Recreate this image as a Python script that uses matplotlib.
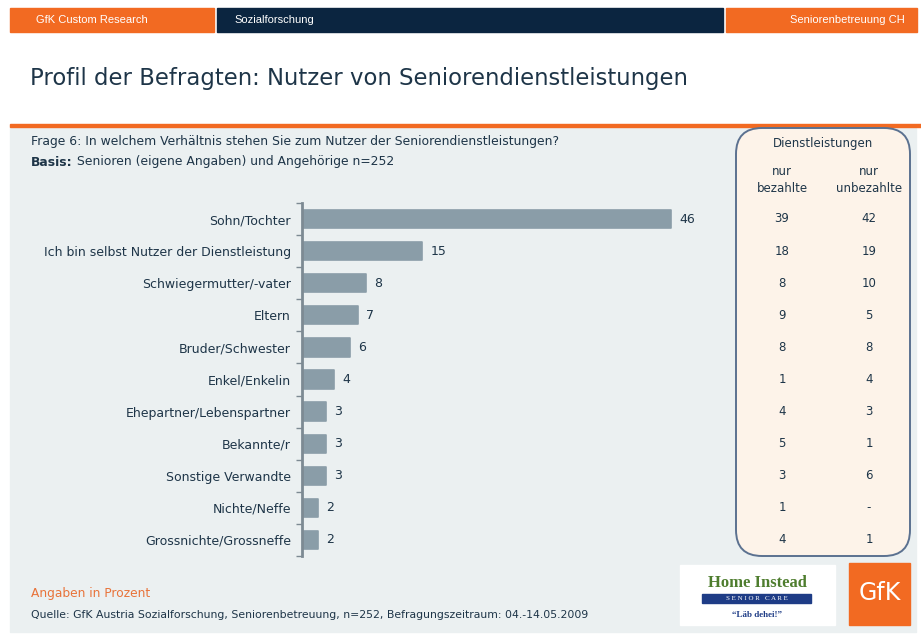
import matplotlib
matplotlib.use("Agg")
import matplotlib.pyplot as plt
from matplotlib.patches import Rectangle, FancyBboxPatch

plt.rcParams['font.family'] = ['DejaVu Sans']

# Daten (Angaben in Prozent)
kategorien = [
    "Sohn/Tochter",
    "Ich bin selbst Nutzer der Dienstleistung",
    "Schwiegermutter/-vater",
    "Eltern",
    "Bruder/Schwester",
    "Enkel/Enkelin",
    "Ehepartner/Lebenspartner",
    "Bekannte/r",
    "Sonstige Verwandte",
    "Nichte/Neffe",
    "Grossnichte/Grossneffe",
]
anteil = [46, 15, 8, 7, 6, 4, 3, 3, 3, 2, 2]
nur_bezahlte = ["39", "18", "8", "9", "8", "1", "4", "5", "3", "1", "4"]
nur_unbezahlte = ["42", "19", "10", "5", "8", "4", "3", "1", "6", "-", "1"]

W, H = 921, 634
ORANGE = "#F26A22"
NAVY = "#0B2540"
TEXT = "#1E3548"
BAR = "#8A9DA8"
BG = "#EBF0F1"

fig = plt.figure(figsize=(W / 100, H / 100), dpi=100)

# Hintergrund-Achse in Pixelkoordinaten
bg = fig.add_axes([0, 0, 1, 1], zorder=0)
bg.set_xlim(0, W)
bg.set_ylim(H, 0)
bg.axis('off')

# Kopfzeile
bg.add_patch(Rectangle((10, 8), 204, 24, color=ORANGE))
bg.add_patch(Rectangle((217, 8), 506, 24, color=NAVY))
bg.add_patch(Rectangle((726, 8), 191, 24, color=ORANGE))
bg.text(36, 20, "GfK Custom Research", color="white", fontsize=8,
        family="Liberation Sans", va="center")
bg.text(234, 20, "Sozialforschung", color="white", fontsize=8,
        family="Liberation Sans", va="center")
bg.text(905, 20, "Seniorenbetreuung CH", color="white", fontsize=8,
        family="Liberation Sans", va="center", ha="right")

bg.text(30, 78, "Profil der Befragten: Nutzer von Seniorendienstleistungen",
        color=TEXT, fontsize=16.4, va="center")

# grauer Bereich + orange Linie
bg.add_patch(Rectangle((10, 127), 906, 505, color=BG))
bg.add_patch(Rectangle((10, 124), 911, 3, color=ORANGE))

bg.text(31, 141, "Frage 6: In welchem Verhältnis stehen Sie zum Nutzer der Seniorendienstleistungen?",
        color=TEXT, fontsize=8.9, va="center")
basis = bg.text(31, 162, "Basis:", color=TEXT, fontsize=8.9, va="center",
                fontweight="bold")
bg.annotate(" Senioren (eigene Angaben) und Angehörige n=252", xy=(1, 0.5),
            xycoords=basis, va="center", color=TEXT, fontsize=8.9)

# Balkendiagramm
ax = fig.add_axes([302 / W, (H - 556) / H, 401 / W, 353 / H], zorder=1)
ax.patch.set_alpha(0)
pos = list(range(len(kategorien)))
ax.barh(pos, anteil, height=0.57, color=BAR, edgecolor=BAR, linewidth=1.2,
        joinstyle="round")
ax.set_xlim(0, 50)
ax.set_ylim(len(kategorien) - 0.5, -0.5)
for s in ["top", "right", "bottom"]:
    ax.spines[s].set_visible(False)
ax.spines["left"].set_color("#7D8A93")
ax.spines["left"].set_linewidth(2)
ax.set_xticks([])
ax.set_yticks(pos)
ax.set_yticklabels(kategorien, color=TEXT, fontsize=9)
ax.tick_params(axis="y", length=0, pad=8)
ax.set_yticks([p - 0.5 for p in pos] + [len(pos) - 0.5], minor=True)
ax.tick_params(axis="y", which="minor", length=4, width=1, color="#7D8A93")
for p, v in zip(pos, anteil):
    ax.annotate(str(v), xy=(v, p), xytext=(6, 0), textcoords="offset points",
                va="center", ha="left", color=TEXT, fontsize=9)

# Tabelle rechts
bg.add_patch(FancyBboxPatch((736, 128), 174, 428,
                            boxstyle="round,pad=0,rounding_size=26",
                            facecolor="#FDF3E9", edgecolor="#5B7190", lw=1.4))
bg.text(823, 143, "Dienstleistungen", color=TEXT, fontsize=8.5,
        ha="center", va="center")
bg.text(782, 180, "nur\nbezahlte", color=TEXT, fontsize=8.5, ha="center",
        va="center", linespacing=1.35)
bg.text(869, 180, "nur\nunbezahlte", color=TEXT, fontsize=8.5, ha="center",
        va="center", linespacing=1.35)
y0, dy = 219, 353 / len(kategorien)
for i, (b, u) in enumerate(zip(nur_bezahlte, nur_unbezahlte)):
    bg.text(782, y0 + i * dy, b, color=TEXT, fontsize=8.5, ha="center", va="center")
    bg.text(869, y0 + i * dy, u, color=TEXT, fontsize=8.5, ha="center", va="center")

# Fusszeile
bg.text(31, 593, "Angaben in Prozent", color="#E8733A", fontsize=8.8, va="center")
bg.text(31, 615, "Quelle: GfK Austria Sozialforschung, Seniorenbetreuung, n=252, Befragungszeitraum: 04.-14.05.2009",
        color=TEXT, fontsize=7.8, va="center")

# Logos
bg.add_patch(Rectangle((680, 565), 155, 60, color="white"))
bg.text(757, 583, "Home Instead", color="#4E7D2E", fontsize=12,
        family="Liberation Serif", fontweight="bold", ha="center", va="center")
bg.add_patch(Rectangle((702, 594), 109, 9, color="#1E3C86"))
bg.text(757, 598.5, "S E N I O R   C A R E", color="white", fontsize=5,
        family="Liberation Serif", ha="center", va="center")
bg.text(757, 615, "“Läb dehei!”", color="#1E3C86", fontsize=6.5,
        family="Liberation Serif", fontweight="bold", ha="center", va="center")
bg.add_patch(Rectangle((849, 563), 61, 62, color=ORANGE))
bg.text(879.5, 593, "GfK", color="white", fontsize=17, ha="center", va="center")

fig.savefig("out.png", dpi=100)
